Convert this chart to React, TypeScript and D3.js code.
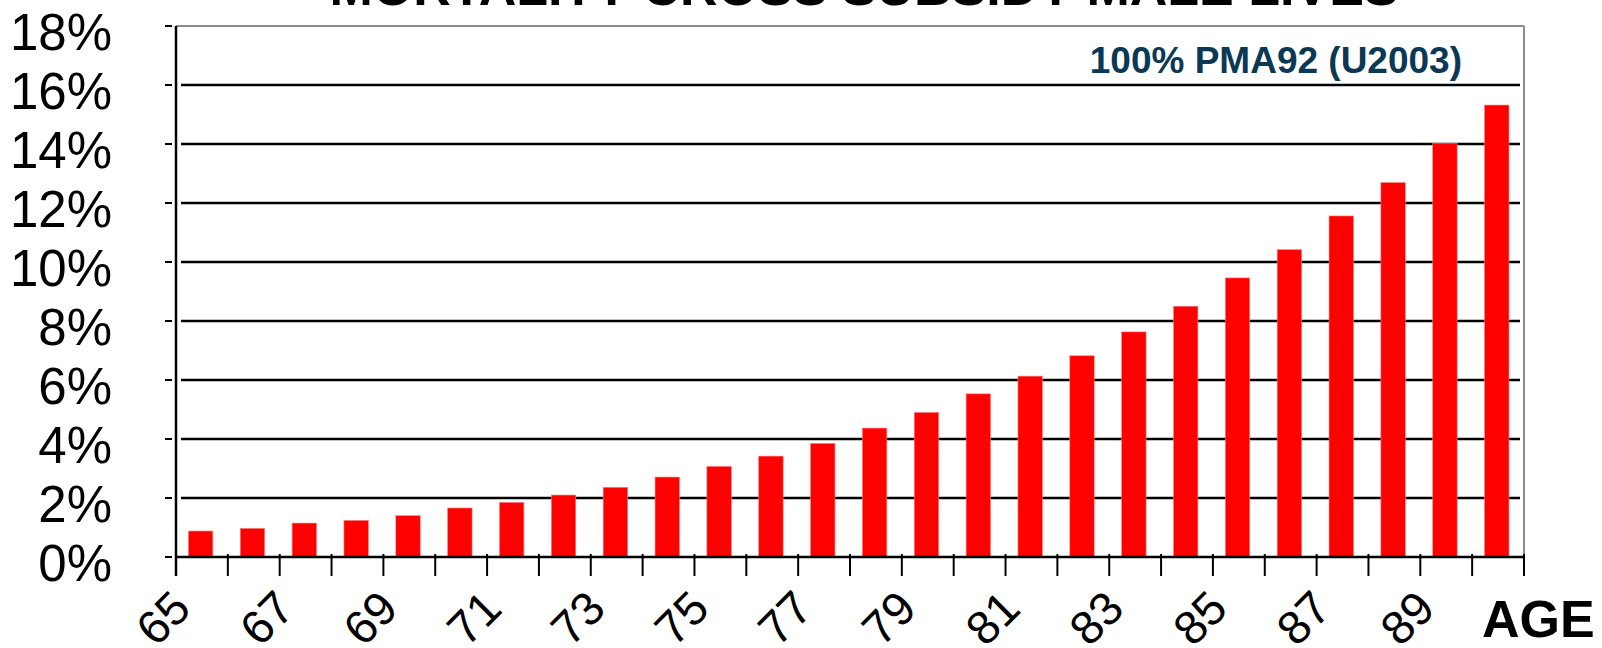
import React from 'react';
import * as d3 from 'd3';

const ages = [65, 66, 67, 68, 69, 70, 71, 72, 73, 74, 75, 76, 77, 78, 79, 80, 81, 82, 83, 84, 85, 86, 87, 88, 89, 90];
const crossSubsidy = [0.88, 0.97, 1.15, 1.24, 1.40, 1.66, 1.85, 2.10, 2.36, 2.71, 3.07, 3.42, 3.85, 4.37, 4.90, 5.53, 6.13, 6.82, 7.63, 8.50, 9.46, 10.42, 11.56, 12.69, 14.02, 15.32];
const yTicks = [0, 2, 4, 6, 8, 10, 12, 14, 16, 18];
const labelledAges = ages.filter((_, i) => i % 2 === 0);

const title = 'MORTALITY CROSS SUBSIDY MALE LIVES';
const seriesLabel = '100% PMA92 (U2003)';
const axisLabel = 'AGE';

const W = 1602;
const H = 648;
const font = '"Liberation Sans", Arial, Helvetica, sans-serif';

export default function App() {
  const left = 176;
  const right = 1524;
  const top = 26;
  const bottom = 557;

  const x = d3.scaleBand<number>().domain(ages).range([left, right]).padding(0);
  const y = d3.scaleLinear().domain([0, 18]).range([bottom, top]);
  const bw = x.bandwidth();

  return (
    <svg width={W} height={H} style={{ position: 'absolute', left: 0, top: 0, background: '#fff' }}>
      {/* title, cut off by the top edge */}
      <text x={864} y={5} textAnchor="middle" fontFamily={font} fontSize={52} fontWeight="bold" fill="#000">
        {title}
      </text>

      {/* frame */}
      <line x1={left} x2={right} y1={top} y2={top} stroke="#8c8c8c" strokeWidth={2} />
      <line x1={right} x2={right} y1={top} y2={bottom} stroke="#8c8c8c" strokeWidth={2} />

      {/* gridlines + y ticks */}
      {yTicks.map(t => (
        <g key={t}>
          {t > 0 && t < 18 && (
            <line x1={left + 5} x2={right - 4} y1={y(t)} y2={y(t)} stroke="#000" strokeWidth={2.5} />
          )}
          <line x1={165} x2={172} y1={y(t)} y2={y(t)} stroke="#000" strokeWidth={2} />
          <text x={112} y={y(t) + 24} textAnchor="end" fontFamily={font} fontSize={51} fill="#000">
            {t}%
          </text>
        </g>
      ))}

      {/* bars */}
      {ages.map((a, i) => (
        <rect
          key={a}
          x={(x(a) as number) + bw * 0.24}
          width={bw * 0.47}
          y={y(crossSubsidy[i])}
          height={bottom - y(crossSubsidy[i])}
          fill="#ff0000"
          stroke="#ff7a7a"
          strokeWidth={0.6}
        />
      ))}

      {/* axes */}
      <line x1={left} x2={left} y1={top} y2={576} stroke="#000" strokeWidth={2.5} />
      <line x1={left} x2={right} y1={bottom} y2={bottom} stroke="#000" strokeWidth={2.5} />
      {ages.map(a => (
        <line key={a} x1={(x(a) as number) + bw} x2={(x(a) as number) + bw} y1={bottom - 3} y2={576} stroke="#000" strokeWidth={2} />
      ))}

      {/* x tick labels */}
      {labelledAges.map(a => {
        const cx = (x(a) as number) + bw / 2;
        return (
          <text
            key={a}
            transform={`translate(${cx - 9},611) rotate(-45)`}
            textAnchor="end"
            fontFamily={font}
            fontSize={47}
            fill="#000"
          >
            {a}
          </text>
        );
      })}

      <text x={1482} y={637} fontFamily={font} fontSize={52} fontWeight="bold" fill="#000">
        {axisLabel}
      </text>

      <text x={1462} y={73} textAnchor="end" fontFamily={font} fontSize={37} fontWeight="bold" fill="#0b3955">
        {seriesLabel}
      </text>
    </svg>
  );
}
